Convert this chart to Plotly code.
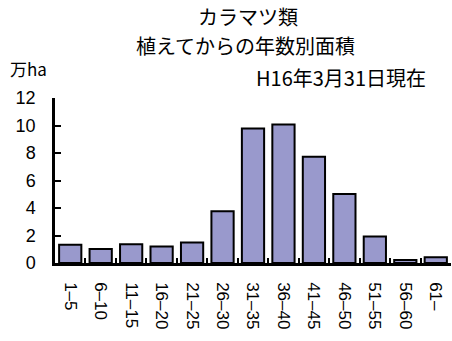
import plotly.graph_objects as go

# Age classes (years since planting) and planted area (10,000 ha)
age_classes = ["1–5", "6–10", "11–15", "16–20", "21–25", "26–30", "31–35",
               "36–40", "41–45", "46–50", "51–55", "56–60", "61–"]
area_man_ha = [1.33, 1.02, 1.36, 1.2, 1.5, 3.76, 9.79, 10.08, 7.73, 5.02, 1.92, 0.22, 0.41]
y_ticks = [0, 2, 4, 6, 8, 10, 12]

num_font = "Liberation Sans, Arial, sans-serif"
jp_font = "Noto Sans CJK JP, sans-serif"

fig = go.Figure(
    go.Bar(
        x=age_classes,
        y=area_man_ha,
        marker=dict(color="#9999CC", line=dict(color="black", width=2)),
    )
)

fig.update_layout(
    width=452,
    height=341,
    margin=dict(l=55, r=1, t=98, b=78),
    paper_bgcolor="white",
    plot_bgcolor="white",
    bargap=0.27,
    showlegend=False,
    font=dict(family=num_font, color="black", size=17),
)

fig.update_xaxes(
    type="category",
    tickangle=90,
    ticks="inside",
    tickson="boundaries",
    ticklen=5,
    tickwidth=2,
    tickcolor="black",
    showline=True,
    linecolor="black",
    linewidth=2.5,
    showgrid=False,
    tickfont=dict(family=num_font, size=17),
    ticklabelstandoff=13,
)

fig.update_yaxes(
    range=[0, 12],
    tickvals=y_ticks,
    ticks="inside",
    ticklen=6,
    tickwidth=2,
    tickcolor="black",
    showline=True,
    linecolor="black",
    linewidth=2.5,
    showgrid=False,
    zeroline=False,
    tickfont=dict(family=num_font, size=18),
    ticklabelstandoff=13,
)

# Title (two lines), unit label and as-of date, placed in pixels from the plot's top-left corner
def label(text, dx, dy, size, anchor="center"):
    fig.add_annotation(
        text=text, xref="paper", yref="paper", x=0, y=1,
        xshift=dx, yshift=dy, xanchor=anchor, yanchor="middle",
        showarrow=False, font=dict(family=jp_font, size=size, color="black"),
    )

label("カラマツ類", 193, 82, 20)
label("植えてからの年数別面積", 190, 53, 20)
label("万ha", -47, 30, 17, anchor="left")
label("H16年3月31日現在", 373, 21, 20, anchor="right")

fig.write_html("out.html")
